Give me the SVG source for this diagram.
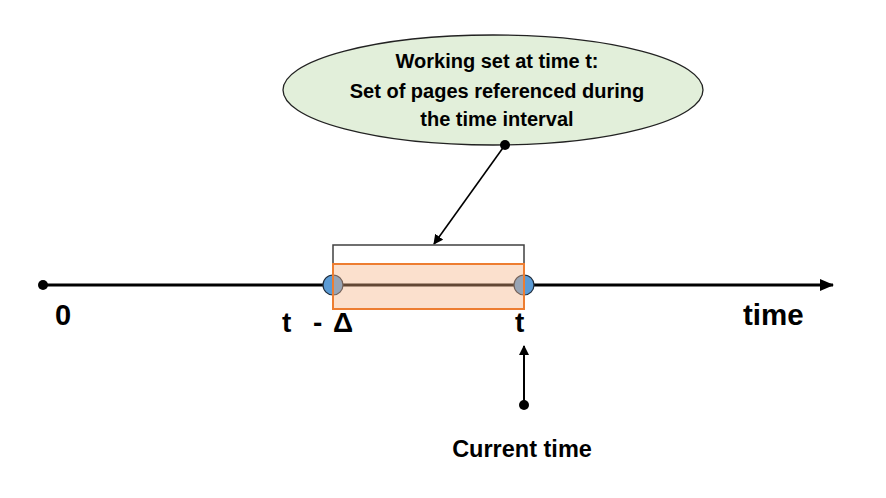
<svg xmlns="http://www.w3.org/2000/svg" width="886" height="498" viewBox="0 0 886 498">
<defs>
<marker id="ah" markerWidth="10" markerHeight="10" refX="9" refY="5" orient="auto" markerUnits="userSpaceOnUse">
<path d="M0,0 L10,5 L0,10 z" fill="#000"/>
</marker>
<marker id="ahs" markerWidth="14" markerHeight="12" refX="13" refY="6" orient="auto" markerUnits="userSpaceOnUse">
<path d="M0,0 L14,6 L0,12 z" fill="#000"/>
</marker>
</defs>
<style>
.t{font-family:"Liberation Sans",Arial,sans-serif;font-weight:bold;fill:#000}
.dot{fill:#000}
</style>
<rect width="886" height="498" fill="#fff"/>
<g id="bubble">
<ellipse cx="493" cy="90" rx="210" ry="55" fill="#E2EFDA" stroke="#222" stroke-width="1.3"/>
<text class="t" font-size="20" text-anchor="middle" x="497" y="68">Working set at time t:</text>
<text class="t" font-size="20" text-anchor="middle" x="497" y="98">Set of pages referenced during</text>
<text class="t" font-size="20" text-anchor="middle" x="497" y="126">the time interval</text>
</g>
<g id="connectors">
<line x1="43" y1="285" x2="833" y2="285" stroke="#000" stroke-width="3" marker-end="url(#ahs)"/>
<circle class="dot" cx="43" cy="285" r="5"/>
<line x1="505" y1="145" x2="434" y2="244" stroke="#000" stroke-width="1.6" marker-end="url(#ah)"/>
<circle class="dot" cx="505" cy="145" r="5"/>
<line x1="524" y1="405" x2="524" y2="346" stroke="#000" stroke-width="2" marker-end="url(#ah)"/>
<circle class="dot" cx="524" cy="405" r="5"/>
</g>
<g id="interval">
<path d="M333,265 V245 H524 V265" fill="none" stroke="#404040" stroke-width="1.5"/>
<circle cx="333" cy="285" r="10" fill="#5B9BD5" stroke="#1f2d3d" stroke-width="1.2"/>
<circle cx="524" cy="285" r="10" fill="#5B9BD5" stroke="#1f2d3d" stroke-width="1.2"/>
<rect x="333" y="264" width="191" height="45" fill="#F4B183" fill-opacity="0.4" stroke="#ED7D31" stroke-width="2"/>
</g>
<g id="labels">
<text class="t" font-size="29" x="55" y="325">0</text>
<text class="t" font-size="28" x="282" y="332">t</text>
<text class="t" font-size="28" x="313" y="332">-</text>
<text class="t" font-size="28" x="333" y="332">Δ</text>
<text class="t" font-size="28" x="515" y="332">t</text>
<text class="t" font-size="29.5" x="743" y="325">time</text>
<text class="t" font-size="23.5" text-anchor="middle" x="522" y="457">Current time</text>
</g>
</svg>
